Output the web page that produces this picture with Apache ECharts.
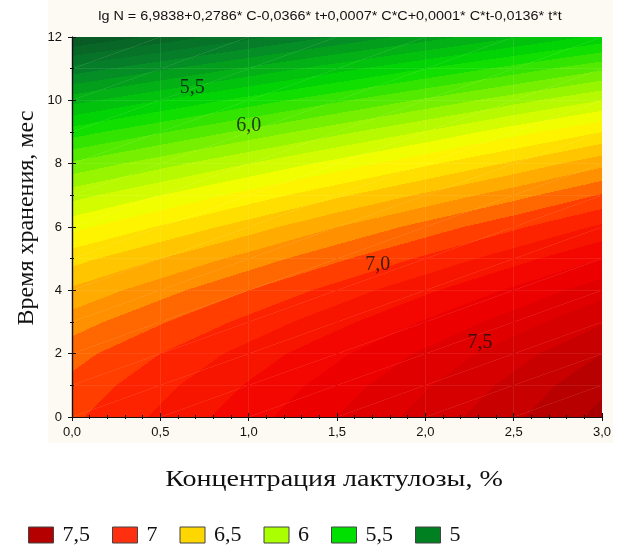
<!DOCTYPE html>
<html>
<head>
<meta charset="utf-8">
<script src="https://cdn.jsdelivr.net/npm/echarts@6/dist/echarts.min.js"></script>
<style>
  html, body { margin: 0; padding: 0; background: #fff; }
  #chart { width: 624px; height: 556px; }
</style>
</head>
<body>
<div id="chart"></div>
<script>
// grid nodes: concentration (%) across, storage time (months) up
var conc = [0, 0.5, 1, 1.5, 2, 2.5, 3];
var time = [0, 1, 2, 3, 4, 5, 6, 7, 8, 9, 10, 11, 12];
// lg N at each node, one row per time value
var lgN = [
  [6.98, 7.12, 7.26, 7.40, 7.54, 7.68, 7.83],
  [6.93, 7.07, 7.21, 7.35, 7.49, 7.63, 7.78],
  [6.86, 7.00, 7.14, 7.28, 7.42, 7.56, 7.70],
  [6.75, 6.89, 7.03, 7.17, 7.31, 7.45, 7.59],
  [6.62, 6.76, 6.90, 7.04, 7.18, 7.32, 7.46],
  [6.46, 6.60, 6.74, 6.88, 7.02, 7.16, 7.30],
  [6.27, 6.41, 6.55, 6.70, 6.84, 6.98, 7.12],
  [6.06, 6.20, 6.34, 6.48, 6.62, 6.76, 6.91],
  [5.82, 5.96, 6.10, 6.24, 6.38, 6.52, 6.67],
  [5.55, 5.69, 5.83, 5.97, 6.11, 6.26, 6.40],
  [5.26, 5.40, 5.54, 5.68, 5.82, 5.96, 6.10],
  [4.94, 5.08, 5.22, 5.36, 5.50, 5.64, 5.78],
  [4.59, 4.73, 4.87, 5.01, 5.15, 5.29, 5.43]
];
var levelStep = 0.1;

// colour scale of the contour bands
var scaleValues = [4.5, 5.0, 5.5, 6.0, 6.3, 6.5, 6.75, 7.0, 7.3, 7.6, 7.85];
var scaleColors = ['#0a4a24', '#06842a', '#00dc00', '#a8f800', '#ffff00',
                   '#ffd400', '#ff9000', '#ff2a00', '#f20000', '#d00000', '#a80000'];

var legendNames = ['7,5', '7', '6,5', '6', '5,5', '5'];
var legendColors = ['#b50000', '#ff3010', '#ffd700', '#aaff00', '#00e000', '#008020'];

var labelText = ['5,5', '6,0', '7,0', '7,5'];
var labelConc = [0.68, 1.0, 1.73, 2.31];
var labelTime = [10.4, 9.2, 4.8, 2.35];

var titleText = 'lg N = 6,9838+0,2786* C-0,0366* t+0,0007* C*C+0,0001* C*t-0,0136* t*t';
var xName = 'Концентрация лактулозы, %';
var yName = 'Время хранения, мес';

function hexRgb(h) {
  return [parseInt(h.substr(1, 2), 16), parseInt(h.substr(3, 2), 16), parseInt(h.substr(5, 2), 16)];
}
function scaleColor(v) {
  var n = scaleValues.length;
  if (v <= scaleValues[0]) return scaleColors[0];
  if (v >= scaleValues[n - 1]) return scaleColors[n - 1];
  for (var i = 0; i < n - 1; i++) {
    if (v <= scaleValues[i + 1]) {
      var f = (v - scaleValues[i]) / (scaleValues[i + 1] - scaleValues[i]);
      var a = hexRgb(scaleColors[i]), b = hexRgb(scaleColors[i + 1]);
      return 'rgb(' + Math.round(a[0] + (b[0] - a[0]) * f) + ',' +
        Math.round(a[1] + (b[1] - a[1]) * f) + ',' + Math.round(a[2] + (b[2] - a[2]) * f) + ')';
    }
  }
}
function bandColor(k) { return scaleColor((k + 0.5) * levelStep); }

// two triangles per grid cell
var triangles = [];
for (var i = 0; i < time.length - 1; i++) {
  for (var j = 0; j < conc.length - 1; j++) {
    var p00 = [conc[j], time[i], lgN[i][j]];
    var p10 = [conc[j + 1], time[i], lgN[i][j + 1]];
    var p01 = [conc[j], time[i + 1], lgN[i + 1][j]];
    var p11 = [conc[j + 1], time[i + 1], lgN[i + 1][j + 1]];
    triangles.push(p00.concat(p10, p11));
    triangles.push(p00.concat(p11, p01));
  }
}

// fill a triangle with hard-edged bands of the linear surface over it
function renderTriangle(params, api) {
  var pts = [], vals = [];
  for (var k = 0; k < 3; k++) {
    pts.push(api.coord([api.value(k * 3), api.value(k * 3 + 1)]));
    vals.push(api.value(k * 3 + 2));
  }
  var vmin = Math.min.apply(null, vals), vmax = Math.max.apply(null, vals);
  var fill;
  if (vmax - vmin < 1e-9) {
    fill = bandColor(Math.floor(vmin / levelStep + 1e-9));
  } else {
    var d1x = pts[1][0] - pts[0][0], d1y = pts[1][1] - pts[0][1];
    var d2x = pts[2][0] - pts[0][0], d2y = pts[2][1] - pts[0][1];
    var dv1 = vals[1] - vals[0], dv2 = vals[2] - vals[0];
    var det = d1x * d2y - d1y * d2x;
    var gx = (dv1 * d2y - dv2 * d1y) / det;
    var gy = (dv2 * d1x - dv1 * d2x) / det;
    var g2 = gx * gx + gy * gy;
    var pm = pts[vals.indexOf(vmin)];
    var span = vmax - vmin;
    var ex = pm[0] + gx * span / g2, ey = pm[1] + gy * span / g2;
    var stops = [];
    var k0 = Math.floor(vmin / levelStep + 1e-9), k1 = Math.floor(vmax / levelStep - 1e-9);
    for (var kk = k0; kk <= k1; kk++) {
      var lo = Math.max(0, (kk * levelStep - vmin) / span);
      var hi = Math.min(1, ((kk + 1) * levelStep - vmin) / span);
      var col = bandColor(kk);
      stops.push({offset: lo, color: col}, {offset: hi, color: col});
    }
    fill = {type: 'linear', x: pm[0], y: pm[1], x2: ex, y2: ey, colorStops: stops, global: true};
  }
  return {
    type: 'polygon',
    shape: {points: pts},
    style: {fill: fill, stroke: fill, lineWidth: 0.4}
  };
}

var labelData = [];
for (var n = 0; n < labelText.length; n++) {
  labelData.push({name: labelText[n], value: [labelConc[n], labelTime[n]]});
}

var series = [{
  type: 'custom',
  renderItem: renderTriangle,
  data: triangles,
  encode: {x: [0, 3, 6], y: [1, 4, 7]},
  clip: true,
  silent: true,
  z: 1
}, {
  type: 'scatter',
  data: labelData,
  symbolSize: 0,
  silent: true,
  z: 6,
  label: {
    show: true, position: 'inside', formatter: '{b}',
    fontFamily: 'Liberation Serif', fontSize: 20, color: '#111'
  }
}];
for (var m = 0; m < legendNames.length; m++) {
  series.push({type: 'scatter', name: legendNames[m], data: [],
    itemStyle: {color: legendColors[m], opacity: 1}});
}

var axisFont = {fontFamily: 'Liberation Sans', fontSize: 13, color: '#111'};
var tickStyle = {color: '#111'};

var chart = echarts.init(document.getElementById('chart'));
chart.setOption({
  animation: false,
  backgroundColor: '#fff',
  graphic: [{
    type: 'rect', left: 48, top: 0, z: -10, silent: true,
    shape: {width: 565, height: 443},
    style: {fill: '#fdfaf3'}
  }, {
    type: 'text', x: 330, y: 17, scaleX: 1.2, silent: true,
    style: {text: titleText, x: 0, y: 0, align: 'center', verticalAlign: 'middle',
      fontFamily: 'Liberation Sans', fontSize: 12, fill: '#111'}
  }, {
    type: 'text', x: 334, y: 480, scaleX: 1.22, silent: true,
    style: {text: xName, x: 0, y: 0, align: 'center', verticalAlign: 'middle',
      fontFamily: 'Liberation Serif', fontSize: 23, fill: '#111'}
  }, {
    type: 'text', x: 27, y: 218, rotation: Math.PI / 2, silent: true,
    style: {text: yName, x: 0, y: 0, align: 'center', verticalAlign: 'middle',
      fontFamily: 'Liberation Serif', fontSize: 24, fill: '#111'}
  }],
  grid: {left: 72, right: 22, top: 37, bottom: 139},
  legend: {
    left: 28, top: 524, padding: 0, itemWidth: 25, itemHeight: 16, itemGap: 22,
    icon: 'rect', selectedMode: false,
    data: legendNames.map(function (nm) {
      return {name: nm, itemStyle: {borderColor: '#444', borderWidth: 1, opacity: 1}};
    }),
    textStyle: {fontFamily: 'Liberation Serif', fontSize: 22, color: '#111', padding: [0, 0, 0, 4]}
  },
  xAxis: [{
    type: 'value', min: 0, max: 3, interval: 0.5, z: 5,
    axisLine: {lineStyle: {color: '#111', width: 1.2}},
    axisTick: {inside: true, length: 4, lineStyle: tickStyle},
    minorTick: {show: true, splitNumber: 5, length: 2, lineStyle: tickStyle},
    splitLine: {show: false},
    axisLabel: {
      margin: 9, fontFamily: axisFont.fontFamily, fontSize: axisFont.fontSize, color: axisFont.color,
      formatter: function (v) { return v.toFixed(1).replace('.', ','); }
    }
  }, {
    type: 'value', min: 0, max: 3, interval: 0.5, position: 'top', z: 5,
    axisLine: {lineStyle: {color: '#111', width: 1.2}},
    axisTick: {inside: true, length: 4, lineStyle: tickStyle},
    minorTick: {show: true, splitNumber: 5, length: 2, lineStyle: tickStyle},
    splitLine: {show: false}, axisLabel: {show: false}
  }],
  yAxis: [{
    type: 'value', min: 0, max: 12, interval: 2, z: 5,
    axisLine: {lineStyle: {color: '#111', width: 1.2}},
    axisTick: {inside: true, length: 4, lineStyle: tickStyle},
    minorTick: {show: true, splitNumber: 2, length: 2, lineStyle: tickStyle},
    splitLine: {show: false},
    axisLabel: {margin: 10, fontFamily: axisFont.fontFamily, fontSize: axisFont.fontSize, color: axisFont.color}
  }, {
    type: 'value', min: 0, max: 12, interval: 2, position: 'right', z: 5,
    axisLine: {lineStyle: {color: '#111', width: 1.2}},
    axisTick: {inside: true, length: 4, lineStyle: tickStyle},
    minorTick: {show: true, splitNumber: 2, length: 2, lineStyle: tickStyle},
    splitLine: {show: false}, axisLabel: {show: false}
  }],
  series: series
});
</script>
</body>
</html>
